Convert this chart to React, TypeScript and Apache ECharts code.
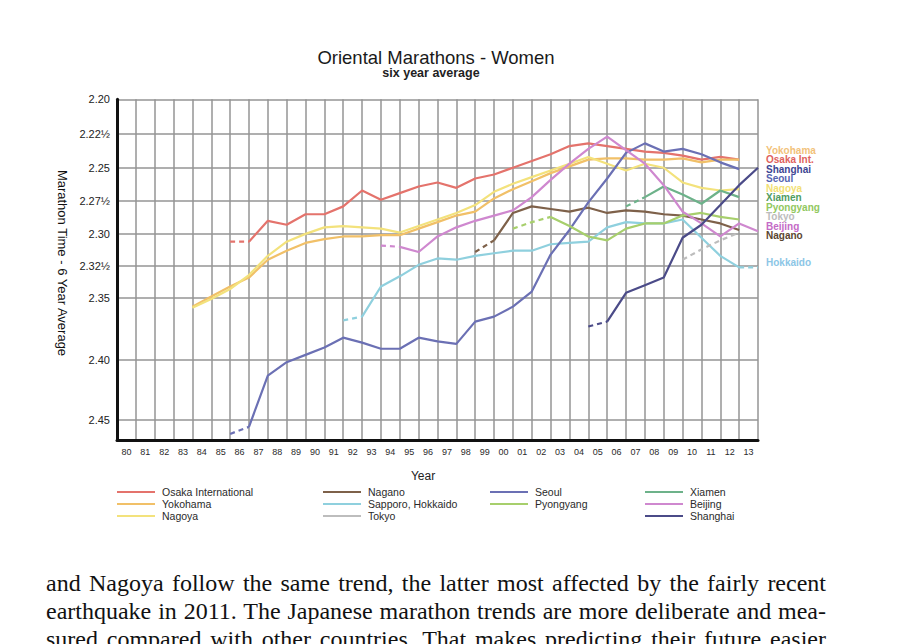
import React, { useEffect, useRef } from 'react';
import * as echarts from 'echarts';

// ---------- data ----------
const yearLabels = ['80','81','82','83','84','85','86','87','88','89','90','91','92','93','94','95','96','97','98','99','00','01','02','03','04','05','06','07','08','09','10','11','12','13'];
// point positions sit on the grid lines between the year cells
const yearPoints = [...yearLabels, '14'];

// y axis: marathon time in minutes (2.20 = 140 min)
const timeTicks = [140, 142.5, 145, 147.5, 150, 152.5, 155, 160, 165];
const timeTickLabels = ['2.20', '2.22½', '2.25', '2.27½', '2.30', '2.32½', '2.35', '2.40', '2.45'];

// six-year averages, minutes; each series starts at the given year point
const osakaInternational = [150.6,150.6,149.0,149.3,148.5,148.5,147.9,146.7,147.4,146.9,146.4,146.1,146.5,145.8,145.5,145.0,144.5,144.0,143.4,143.2,143.4,143.6,143.8,143.9,144.1,144.4,144.2,144.4];
const yokohama = [155.7,154.9,154.1,153.4,152.0,151.3,150.7,150.4,150.2,150.2,150.1,150.1,149.6,149.1,148.6,148.3,147.3,146.6,146.0,145.4,144.9,144.4,144.3,144.3,144.4,144.4,144.3,144.6,144.4,144.4];
const nagoya = [155.8,155.1,154.3,153.2,151.7,150.6,150.0,149.5,149.4,149.5,149.6,149.9,149.4,148.9,148.4,147.8,146.8,146.2,145.7,145.2,144.7,144.2,144.7,145.2,144.7,145.0,146.1,146.5,146.7,146.6];
const nagano = [151.4,150.5,148.4,147.9,148.1,148.3,148.0,148.4,148.2,148.3,148.5,148.6,148.9,149.2,149.7];
const sapporoHokkaido = [156.8,156.5,154.1,153.3,152.4,151.9,152.0,151.7,151.5,151.3,151.3,150.8,150.7,150.6,149.5,149.1,149.2,149.2,148.9,150.3,151.7,152.6,152.6];
const tokyo = [152.0,151.2,150.5,149.9];
const seoul = [166.2,165.6,161.3,160.2,159.6,159.0,158.2,158.6,159.1,159.1,158.2,158.5,158.7,156.9,156.5,155.7,154.5,151.6,149.7,147.6,145.8,143.9,143.2,143.8,143.6,144.0,144.6,145.1];
const pyongyang = [149.6,149.1,148.7,149.4,150.2,150.5,149.6,149.2,149.2,148.6,148.4,148.7,148.9];
const xiamen = [147.9,147.2,146.4,147.0,147.7,146.7,147.2];
const beijing = [150.9,151.0,151.4,150.2,149.5,149.0,148.6,148.2,147.2,145.9,144.7,143.6,142.7,143.7,144.7,146.3,148.3,149.2,150.2,149.2,149.8];
const shanghai = [157.3,156.9,154.6,154.0,153.4,150.3,149.3,147.8,146.3,145.0];

const bodyLines = [
  'and Nagoya follow the same trend, the latter most affected by the fairly recent',
  'earthquake in 2011. The Japanese marathon trends are more deliberate and mea-',
  'sured compared with other countries. That makes predicting their future easier',
];

// ---------- series config ----------
type Def = { name: string; start: string; values: number[]; color: string; head: number; tail: number };
const defs: Def[] = [
  { name: 'Osaka International', start: '86', values: osakaInternational, color: '#e4736c', head: 2, tail: 0 },
  { name: 'Yokohama', start: '84', values: yokohama, color: '#f1c068', head: 0, tail: 0 },
  { name: 'Nagoya', start: '84', values: nagoya, color: '#f3e27c', head: 0, tail: 0 },
  { name: 'Nagano', start: '99', values: nagano, color: '#7e614a', head: 2, tail: 0 },
  { name: 'Sapporo, Hokkaido', start: '92', values: sapporoHokkaido, color: '#8fd0de', head: 2, tail: 2 },
  { name: 'Tokyo', start: '10', values: tokyo, color: '#bdbdbd', head: 4, tail: 0 },
  { name: 'Seoul', start: '86', values: seoul, color: '#6b70b4', head: 2, tail: 0 },
  { name: 'Pyongyang', start: '01', values: pyongyang, color: '#a7cf6c', head: 3, tail: 0 },
  { name: 'Xiamen', start: '07', values: xiamen, color: '#6db28a', head: 2, tail: 0 },
  { name: 'Beijing', start: '94', values: beijing, color: '#cf88cf', head: 2, tail: 0 },
  { name: 'Shanghai', start: '05', values: shanghai, color: '#4b4b88', head: 2, tail: 0 },
];

function pairs(d: Def) {
  const s = yearPoints.indexOf(d.start);
  return d.values.map((v, i) => [s + i, v]);
}

function buildSeries() {
  const out: any[] = [];
  defs.forEach((d) => {
    const p = pairs(d);
    const n = p.length;
    const base = {
      type: 'line',
      name: d.name,
      xAxisIndex: 1,
      yAxisIndex: 0,
      showSymbol: false,
      symbol: 'none',
      smooth: false,
      itemStyle: { color: d.color },
      emphasis: { disabled: true },
    };
    if (d.head < n) {
      const from = Math.max(d.head - 1, 0);
      const to = n - Math.max(d.tail - 1, 0);
      out.push({ ...base, data: p.slice(from, to), lineStyle: { color: d.color, width: 2.2 } });
    }
    if (d.head > 0) {
      out.push({ ...base, data: p.slice(0, Math.min(d.head, n)), lineStyle: { color: d.color, width: 2.2, type: [5, 4] } });
    }
    if (d.tail > 0) {
      out.push({ ...base, data: p.slice(n - d.tail), lineStyle: { color: d.color, width: 2.2, type: [5, 4] } });
    }
  });
  return out;
}

const endLabels = [
  { text: 'Yokohama', color: '#f2c27a' },
  { text: 'Osaka Int.', color: '#e0625c' },
  { text: 'Shanghai', color: '#3d4592' },
  { text: 'Seoul', color: '#5563b0' },
  { text: 'Nagoya', color: '#f2df74' },
  { text: 'Xiamen', color: '#4f9c60' },
  { text: 'Pyongyang', color: '#92c860' },
  { text: 'Tokyo', color: '#bcbcbc' },
  { text: 'Beijing', color: '#c46ac6' },
  { text: 'Nagano', color: '#5a4630' },
  { text: 'Hokkaido', color: '#8cc6e6' },
];
const endLabelY = [150, 159.5, 169, 178.5, 188, 197.5, 207, 216.5, 226, 235.5, 262];

const font = '"Liberation Sans", Arial, Helvetica, sans-serif';

function buildOption(): any {
  const legendBase = {
    orient: 'vertical',
    itemWidth: 38,
    itemHeight: 2,
    itemGap: 0,
    padding: 0,
    icon: 'rect',
    selectedMode: false,
    textStyle: { fontSize: 10.5, color: '#2a2a2a', fontFamily: font, lineHeight: 12, padding: [0, 0, 0, 2] },
  };
  return {
    animation: false,
    backgroundColor: 'transparent',
    grid: { left: 117, right: 142, top: 99.3, bottom: 204, containLabel: false },
    legend: [
      { ...legendBase, left: 117, top: 486, data: ['Osaka International', 'Yokohama', 'Nagoya'] },
      { ...legendBase, left: 323, top: 486, data: ['Nagano', 'Sapporo, Hokkaido', 'Tokyo'] },
      { ...legendBase, left: 490, top: 486, data: ['Seoul', 'Pyongyang'] },
      { ...legendBase, left: 645, top: 486, data: ['Xiamen', 'Beijing', 'Shanghai'] },
    ],
    xAxis: [
      {
        type: 'category',
        data: yearLabels,
        boundaryGap: true,
        axisLine: { show: true, lineStyle: { color: '#111', width: 3 } },
        axisTick: { show: false },
        axisLabel: { interval: 0, fontSize: 9, color: '#2a2a2a', margin: 7, fontFamily: font },
        splitLine: { show: true, interval: 0, lineStyle: { color: '#959595', width: 1.5 } },
      },
      {
        type: 'category',
        data: yearPoints,
        boundaryGap: false,
        show: false,
      },
    ],
    yAxis: {
      type: 'log',
      logBase: 10,
      inverse: true,
      min: 140,
      max: 166.72,
      axisLine: { show: true, lineStyle: { color: '#111', width: 3 } },
      axisTick: { show: false, customValues: timeTicks },
      axisLabel: {
        customValues: timeTicks,
        fontSize: 11,
        color: '#222',
        margin: 7,
        fontFamily: font,
        formatter: (v: number) => {
          const i = timeTicks.findIndex((t) => Math.abs(t - v) < 0.05);
          return i >= 0 ? timeTickLabels[i] : '';
        },
      },
      splitLine: { show: true, lineStyle: { color: '#959595', width: 1.5 } },
    },
    graphic: [
      {
        type: 'text', x: 436, y: 57,
        style: { text: 'Oriental Marathons - Women', fill: '#1a1a1a', fontSize: 18.5, fontFamily: font, textAlign: 'center', textVerticalAlign: 'middle' },
      },
      {
        type: 'text', x: 431, y: 73,
        style: { text: 'six year average', fill: '#222', fontSize: 12.5, fontWeight: 'bold', fontFamily: font, textAlign: 'center', textVerticalAlign: 'middle' },
      },
      {
        type: 'text', x: 62, y: 263, rotation: -Math.PI / 2,
        style: { text: 'Marathon Time - 6 Year Average', fill: '#111', fontSize: 13, fontFamily: font, textAlign: 'center', textVerticalAlign: 'middle' },
      },
      {
        type: 'text', x: 423, y: 476,
        style: { text: 'Year', fill: '#222', fontSize: 12, fontFamily: font, textAlign: 'center', textVerticalAlign: 'middle' },
      },
      ...endLabels.map((l, i) => ({
        type: 'text', x: 766, y: endLabelY[i],
        style: { text: l.text, fill: l.color, fontSize: 10, lineHeight: 9, fontWeight: 'bold', fontFamily: font, textAlign: 'left', textVerticalAlign: 'middle' },
      })),
    ],
    series: buildSeries(),
  };
}

export default function App() {
  const ref = useRef<HTMLDivElement>(null);
  useEffect(() => {
    if (!ref.current) return;
    const chart = echarts.init(ref.current, null, { renderer: 'svg' });
    chart.setOption(buildOption());
    return () => chart.dispose();
  }, []);
  return (
    <div style={{ position: 'fixed', left: 0, top: 0, width: 900, height: 644, background: '#fff', overflow: 'hidden' }}>
      <div ref={ref} style={{ position: 'absolute', left: 0, top: 0, width: 900, height: 644 }} />
      {bodyLines.map((t, i) => (
        <div
          key={i}
          style={{
            position: 'absolute',
            left: 46,
            top: 569 + i * 28,
            width: 780,
            fontFamily: '"Liberation Serif", "Times New Roman", serif',
            fontSize: 24,
            lineHeight: '28px',
            textAlign: 'justify',
            textAlignLast: 'justify',
            whiteSpace: 'nowrap',
            color: '#111',
          }}
        >
          {t}
        </div>
      ))}
    </div>
  );
}
